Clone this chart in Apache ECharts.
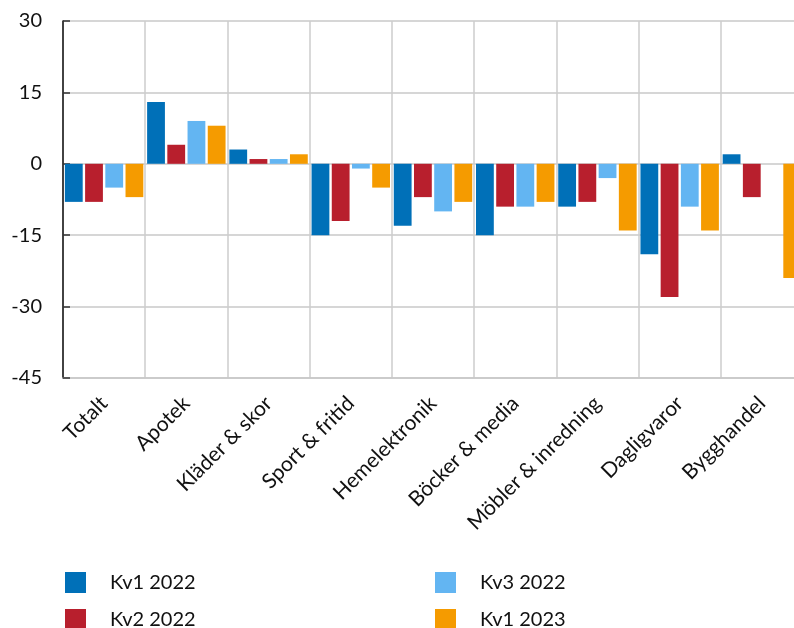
<!DOCTYPE html>
<html>
<head>
<meta charset="utf-8">
<script src="https://cdn.jsdelivr.net/npm/echarts@6/dist/echarts.min.js"></script>
<style>
  html, body { margin: 0; padding: 0; background: #fff; overflow: hidden; }
  /* a bit wider than the window: the plot runs off the right edge like the original */
  #chart { width: 803px; height: 628px; }
</style>
</head>
<body>
<div id="chart"></div>
<script>
const categories = ['Totalt', 'Apotek', 'Kläder & skor', 'Sport & fritid', 'Hemelektronik',
  'Böcker & media', 'Möbler & inredning', 'Dagligvaror', 'Bygghandel']
const kv1_2022 = [-8, 13, 3, -15, -13, -15, -9, -19, 2]
const kv2_2022 = [-8, 4, 1, -12, -7, -9, -8, -28, -7]
const kv3_2022 = [-5, 9, 1, -1, -10, -9, -3, -9, null]
const kv1_2023 = [-7, 8, 2, -5, -8, -8, -14, -14, -24]
const yTicks = { min: -45, max: 30, interval: 15 }

const font = 'Lato, "Open Sans", sans-serif'
const chart = echarts.init(document.getElementById('chart'))

const bar = (name, data, color) => ({
  name,
  type: 'bar',
  data,
  barGap: '13.5%',
  barCategoryGap: '4.6%',
  itemStyle: { color },
})

// one legend per item so the 2x2 block lands where the original has it
const legendItem = (name, left, top) => ({
  data: [name],
  left, top,
  padding: 0,
  itemWidth: 21, itemHeight: 21,
  icon: 'rect',
  textStyle: { fontFamily: font, fontSize: 20, color: '#111', padding: [0, 0, 0, 19] },
})

chart.setOption({
  animation: false,
  grid: { left: 63, right: 0, top: 21, bottom: 250, containLabel: false },
  legend: [
    legendItem('Kv1 2022', 65, 572),
    legendItem('Kv2 2022', 65, 609),
    legendItem('Kv3 2022', 435, 572),
    legendItem('Kv1 2023', 435, 609),
  ],
  xAxis: {
    type: 'category',
    data: categories,
    axisLine: { onZero: false, lineStyle: { color: '#c8c8c8', width: 1.5 } },
    axisTick: { show: false },
    splitLine: { show: true, interval: 0, lineStyle: { color: '#cccccc', width: 1.5 } },
    axisLabel: {
      interval: 0,
      rotate: 45,
      margin: 22,
      fontFamily: font,
      fontSize: 21,
      color: '#111',
    },
  },
  yAxis: {
    type: 'value',
    min: yTicks.min,
    max: yTicks.max,
    interval: yTicks.interval,
    axisLine: { show: true, lineStyle: { color: '#111', width: 1.5 } },
    axisTick: { show: true, inside: true, length: 7, lineStyle: { color: '#333', width: 1.5 } },
    splitLine: { lineStyle: { color: '#c8c8c8', width: 1.5 } },
    axisLabel: { margin: 21, fontFamily: font, fontSize: 20, color: '#111' },
  },
  series: [
    bar('Kv1 2022', kv1_2022, '#0070B8'),
    bar('Kv2 2022', kv2_2022, '#B81F2D'),
    bar('Kv3 2022', kv3_2022, '#63B5F2'),
    bar('Kv1 2023', kv1_2023, '#F59B00'),
  ],
})
</script>
</body>
</html>
